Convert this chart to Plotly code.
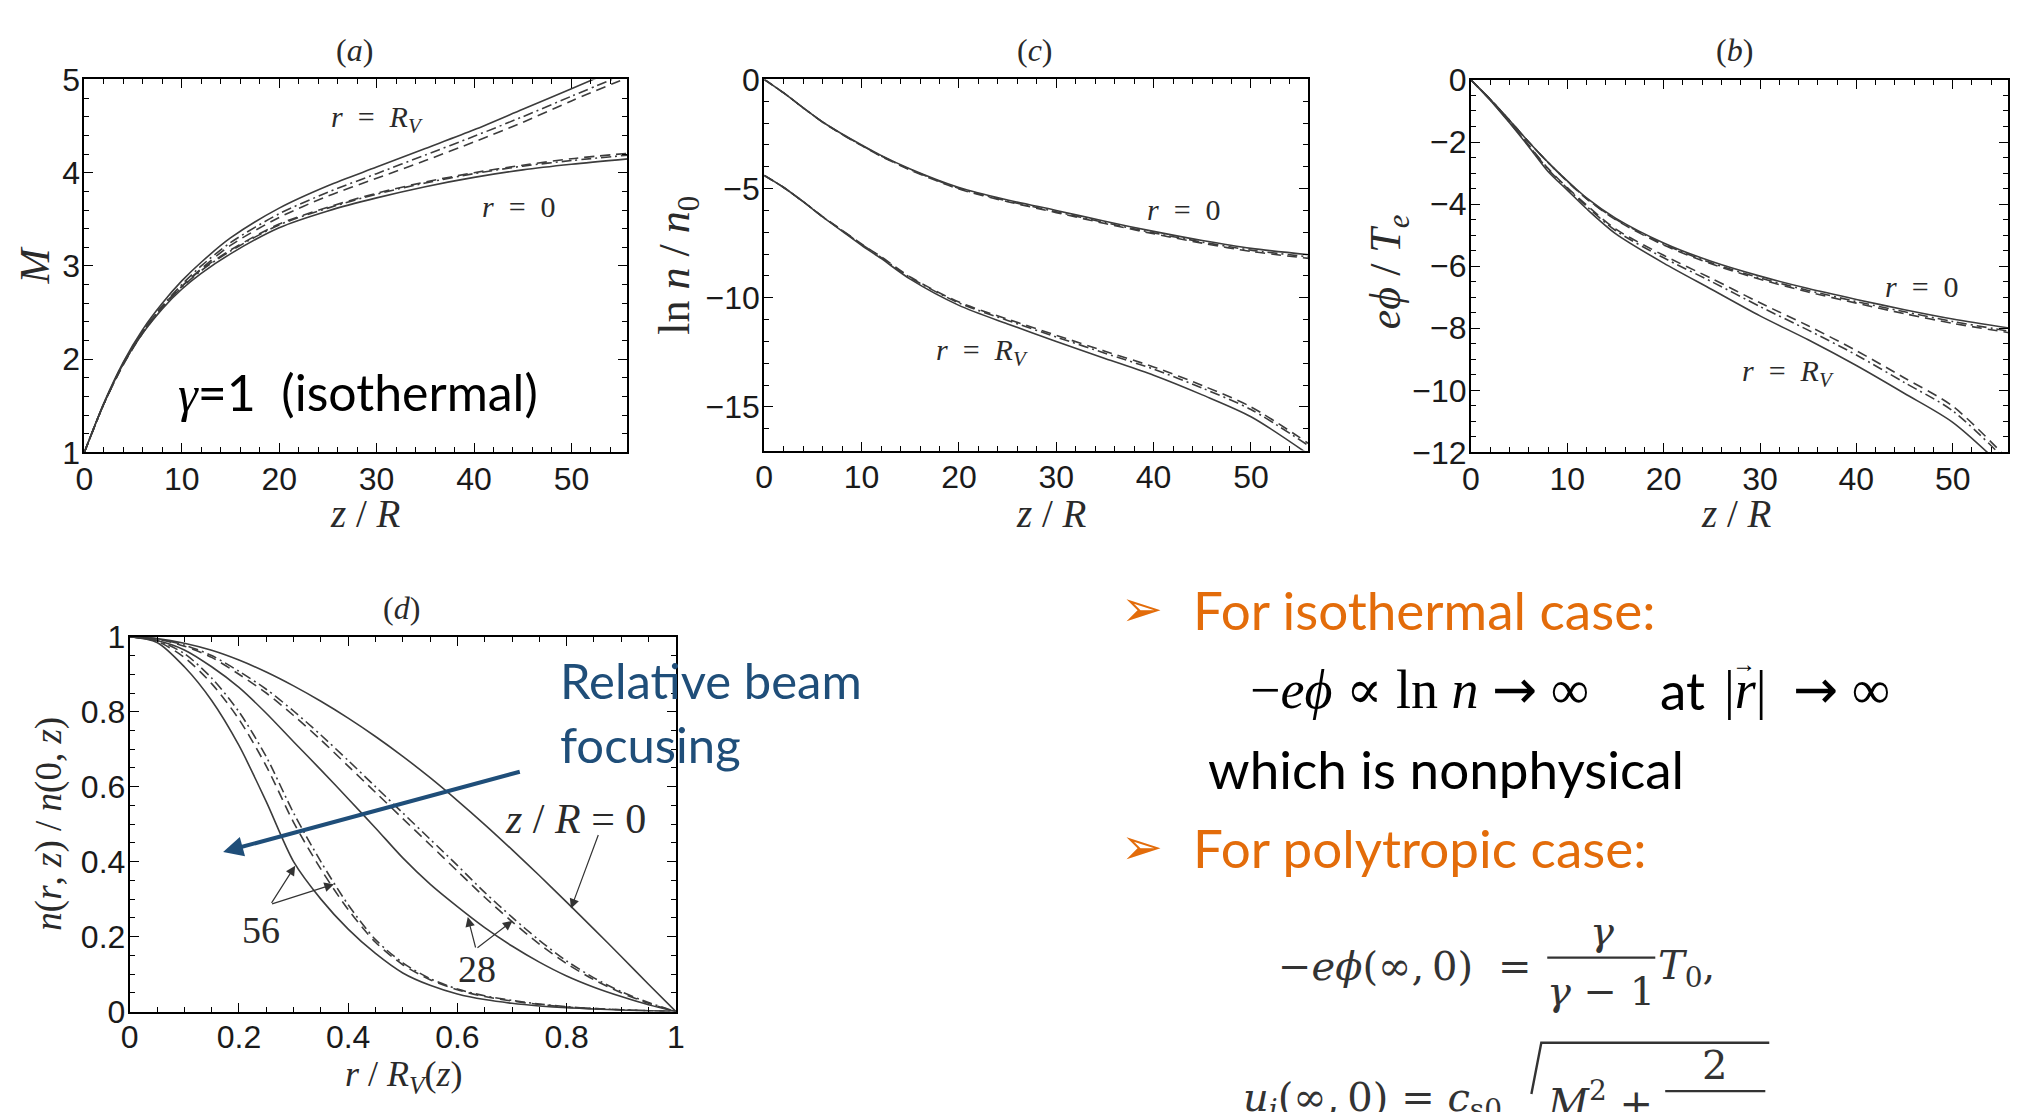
import plotly.graph_objects as go

W, H = 2032, 1112

# ---------------- data ----------------
# axial distance z/R for panels (a), (b), (c)
z_vals = [0, 2, 4, 6, 8, 10, 12, 15, 20, 25, 30, 35, 40, 45, 50, 56]

# (a) Mach number M
M_RV_solid = [1.0, 1.53, 1.97, 2.32, 2.60, 2.84, 3.04, 3.30, 3.62, 3.86, 4.06, 4.26, 4.46, 4.68, 4.90, 5.17]
M_RV_dashdot = [1.0, 1.52, 1.95, 2.30, 2.57, 2.80, 3.00, 3.25, 3.56, 3.79, 3.99, 4.19, 4.39, 4.60, 4.82, 5.08]
M_RV_dash = [1.0, 1.52, 1.94, 2.28, 2.55, 2.78, 2.97, 3.22, 3.52, 3.75, 3.94, 4.13, 4.33, 4.54, 4.77, 5.03]
M_0_solid = [1.0, 1.52, 1.95, 2.28, 2.54, 2.75, 2.92, 3.13, 3.41, 3.59, 3.73, 3.85, 3.95, 4.03, 4.09, 4.15]
M_0_dashdot = [1.0, 1.52, 1.95, 2.29, 2.56, 2.77, 2.95, 3.16, 3.44, 3.62, 3.77, 3.89, 3.99, 4.07, 4.13, 4.19]
M_0_dash = [1.0, 1.52, 1.96, 2.30, 2.57, 2.78, 2.96, 3.17, 3.45, 3.63, 3.78, 3.90, 4.00, 4.08, 4.15, 4.21]

# (c) ln n / n0
lnn_0_solid = [0, -0.62, -1.30, -1.95, -2.50, -3.00, -3.48, -4.10, -4.95, -5.52, -6.00, -6.50, -6.96, -7.38, -7.74, -8.03]
lnn_0_dashdot = [0, -0.62, -1.30, -1.95, -2.51, -3.02, -3.50, -4.13, -4.99, -5.57, -6.06, -6.56, -7.03, -7.45, -7.82, -8.13]
lnn_0_dash = [0, -0.62, -1.30, -1.96, -2.52, -3.03, -3.52, -4.15, -5.02, -5.60, -6.10, -6.60, -7.07, -7.50, -7.88, -8.20]
lnn_RV_solid = [-4.4, -4.95, -5.60, -6.30, -6.95, -7.60, -8.20, -9.15, -10.35, -11.20, -12.00, -12.78, -13.55, -14.45, -15.45, -17.20]
lnn_RV_dashdot = [-4.4, -4.95, -5.60, -6.29, -6.92, -7.56, -8.15, -9.08, -10.24, -11.04, -11.80, -12.54, -13.27, -14.14, -15.12, -16.80]
lnn_RV_dash = [-4.4, -4.95, -5.60, -6.28, -6.91, -7.54, -8.12, -9.05, -10.20, -10.98, -11.72, -12.45, -13.17, -14.02, -15.00, -16.70]

# (b) e*phi / Te
phi_0_solid = [0, -0.62, -1.30, -2.00, -2.65, -3.25, -3.80, -4.45, -5.25, -5.85, -6.32, -6.72, -7.07, -7.40, -7.70, -8.00]
phi_0_dashdot = [0, -0.62, -1.30, -2.00, -2.66, -3.26, -3.82, -4.48, -5.29, -5.90, -6.38, -6.78, -7.14, -7.47, -7.78, -8.10]
phi_0_dash = [0, -0.62, -1.30, -2.00, -2.66, -3.27, -3.83, -4.50, -5.32, -5.93, -6.42, -6.83, -7.19, -7.53, -7.84, -8.15]
phi_RV_solid = [0, -0.65, -1.38, -2.15, -2.95, -3.55, -4.15, -4.95, -5.90, -6.75, -7.60, -8.37, -9.20, -10.10, -11.03, -12.70]
phi_RV_dashdot = [0, -0.64, -1.36, -2.12, -2.88, -3.49, -4.07, -4.85, -5.73, -6.50, -7.30, -8.06, -8.86, -9.75, -10.66, -12.40]
phi_RV_dash = [0, -0.64, -1.35, -2.10, -2.85, -3.47, -4.03, -4.80, -5.65, -6.40, -7.18, -7.92, -8.72, -9.60, -10.51, -12.30]

# (d) radial density profiles n(r,z)/n(0,z)
r_vals = [0, 0.05, 0.1, 0.15, 0.2, 0.25, 0.3, 0.35, 0.4, 0.45, 0.5,
          0.55, 0.6, 0.65, 0.7, 0.75, 0.8, 0.85, 0.9, 0.95, 1.0]
n_z0 = [1, 0.995, 0.983, 0.964, 0.938, 0.906, 0.869, 0.828, 0.783, 0.734, 0.681,
        0.624, 0.563, 0.499, 0.432, 0.363, 0.292, 0.220, 0.147, 0.073, 0]
n_z28_solid = [1, 0.990, 0.965, 0.920, 0.865, 0.796, 0.720, 0.645, 0.568, 0.490, 0.410,
               0.340, 0.280, 0.224, 0.175, 0.132, 0.095, 0.065, 0.040, 0.018, 0]
n_z28_dash = [1, 0.994, 0.975, 0.945, 0.900, 0.850, 0.790, 0.725, 0.655, 0.585, 0.515,
              0.445, 0.375, 0.305, 0.240, 0.180, 0.128, 0.085, 0.050, 0.022, 0]
n_z28_dashdot = [1, 0.995, 0.978, 0.950, 0.908, 0.860, 0.802, 0.738, 0.670, 0.600, 0.530,
                 0.460, 0.390, 0.318, 0.252, 0.190, 0.135, 0.090, 0.053, 0.024, 0]
n_z56_solid = [1, 0.985, 0.920, 0.830, 0.710, 0.560, 0.400, 0.300, 0.220, 0.155, 0.103,
               0.070, 0.047, 0.032, 0.022, 0.015, 0.010, 0.007, 0.004, 0.002, 0]
n_z56_dash = [1, 0.988, 0.945, 0.875, 0.780, 0.655, 0.505, 0.380, 0.272, 0.185, 0.125,
              0.085, 0.058, 0.040, 0.028, 0.019, 0.012, 0.008, 0.005, 0.002, 0]
n_z56_dashdot = [1, 0.990, 0.955, 0.890, 0.800, 0.680, 0.530, 0.400, 0.285, 0.192, 0.130,
                 0.088, 0.060, 0.042, 0.030, 0.020, 0.013, 0.008, 0.005, 0.002, 0]

# tick labels
z_ticks = [0, 10, 20, 30, 40, 50]
M_ticks = [1, 2, 3, 4, 5]
lnn_ticks = [0, -5, -10, -15]
phi_ticks = [0, -2, -4, -6, -8, -10, -12]
r_ticks = [0, 0.2, 0.4, 0.6, 0.8, 1]

# ---------------- helpers ----------------
def px(x, y):
    """pixel position -> paper coordinates"""
    return x / W, 1 - y / H


def dom(x0, x1, y0, y1):
    return [x0 / W, x1 / W], [1 - y1 / H, 1 - y0 / H]


LINE = "#3c3c3c"
DASH = "10px,6px"
DASHDOT = "10px,4px,2px,4px"
SERIF = "Liberation Serif, DejaVu Serif, serif"
EQSERIF = "DejaVu Serif, Liberation Serif, serif"
SANS = "Liberation Sans, Arial, sans-serif"
SLIDE = "Lato, Open Sans, sans-serif"
ORANGE = "#E36C0A"
BLUE = "#1F4E79"
NB = "\u00a0"

fig = go.Figure()


def add_curve(xs, ys, dash, xa, ya):
    fig.add_trace(go.Scatter(
        x=xs, y=ys, mode="lines", xaxis=xa, yaxis=ya,
        line=dict(color=LINE, width=1.6, dash=dash, shape="spline", smoothing=0.8),
        hoverinfo="skip", showlegend=False))


# (a)
for ys, d in [(M_RV_solid, "solid"), (M_RV_dashdot, DASHDOT), (M_RV_dash, DASH),
              (M_0_solid, "solid"), (M_0_dashdot, DASHDOT), (M_0_dash, DASH)]:
    add_curve(z_vals, ys, d, "x", "y")
# (c)
for ys, d in [(lnn_0_solid, "solid"), (lnn_0_dashdot, DASHDOT), (lnn_0_dash, DASH),
              (lnn_RV_solid, "solid"), (lnn_RV_dashdot, DASHDOT), (lnn_RV_dash, DASH)]:
    add_curve(z_vals, ys, d, "x2", "y2")
# (b)
for ys, d in [(phi_0_solid, "solid"), (phi_0_dashdot, DASHDOT), (phi_0_dash, DASH),
              (phi_RV_solid, "solid"), (phi_RV_dashdot, DASHDOT), (phi_RV_dash, DASH)]:
    add_curve(z_vals, ys, d, "x3", "y3")
# (d)
for ys, d in [(n_z0, "solid"), (n_z28_solid, "solid"), (n_z28_dash, DASH),
              (n_z28_dashdot, DASHDOT), (n_z56_solid, "solid"), (n_z56_dash, DASH),
              (n_z56_dashdot, DASHDOT)]:
    add_curve(r_vals, ys, d, "x4", "y4")


def axis(domain, rng, tickvals, minor_dtick, anchor, standoff):
    return dict(
        domain=domain, range=rng, anchor=anchor, tickvals=tickvals,
        showline=True, linecolor="black", linewidth=2, mirror="allticks",
        ticks="inside", ticklen=9, tickwidth=1.4, tickcolor="black",
        minor=dict(ticks="inside", ticklen=5, tickwidth=1, tickcolor="black", dtick=minor_dtick),
        showgrid=False, zeroline=False, ticklabelstandoff=standoff,
        tickfont=dict(family=SANS, size=32, color="#1a1a1a"),
    )


xa_a, ya_a = dom(76, 624, 63.5, 449)
xa_c, ya_c = dom(762, 1311, 63.5, 447)
xa_b, ya_b = dom(1475, 2017, 64, 449)
xa_d, ya_d = dom(121.8, 672.8, 639.5, 1026.8)

XS, YS = -3, -4
fig.update_layout(
    width=W, height=H, margin=dict(l=0, r=0, t=0, b=0),
    paper_bgcolor="white", plot_bgcolor="white",
    xaxis=axis(xa_a, [0, 55.75], z_ticks, 2, "y", XS),
    yaxis=axis(ya_a, [1, 5], M_ticks, 0.2, "x", YS),
    xaxis2=axis(xa_c, [0, 55.9], z_ticks, 2, "y2", XS),
    yaxis2=axis(ya_c, [-17, 0], lnn_ticks, 1, "x2", YS),
    xaxis3=axis(xa_b, [0, 55.75], z_ticks, 2, "y3", XS),
    yaxis3=axis(ya_b, [-12, 0], phi_ticks, 0.5, "x3", YS),
    xaxis4=axis(xa_d, [0, 1], r_ticks, 0.05, "y4", -4),
    yaxis4=axis(ya_d, [0, 1], r_ticks, 0.05, "x4", YS),
)

ann = []


def text(x, y, s, size, family=SERIF, color="#2a2a2a", angle=0, xanchor="center"):
    xp, yp = px(x, y)
    ann.append(dict(x=xp, y=yp, xref="paper", yref="paper", text=s, showarrow=False,
                    font=dict(family=family, size=size, color=color), textangle=angle,
                    xanchor=xanchor, yanchor="middle"))


# panel titles
text(349, 33, "(<i>a</i>)", 32)
text(1035, 33, "(<i>c</i>)", 32)
text(1741, 33, "(<i>b</i>)", 32)
text(396, 610, "(<i>d</i>)", 32)

# axis titles
text(26, 256, "<i>M</i>", 42, angle=-90)
text(675, 256, "ln " + "<i>n</i> / <i>n</i><sub>0</sub>", 44, angle=-90)
text(1392, 262, "<i>eϕ</i> / <i>T<sub>e</sub></i>", 44, angle=-90)
for cx in (360, 1052, 1743):
    text(cx, 512, "<i>z</i> / <i>R</i>", 39)
text(40, 833, "<i>n</i>(<i>r</i>, <i>z</i>) / <i>n</i>(0, <i>z</i>)", 37, angle=-90)
text(398, 1094, "<i>r</i> / <i>R<sub>V</sub></i>(<i>z</i>)", 36)

# curve labels
RV = "<i>r</i>" + NB * 2 + "=" + NB * 2 + "<i>R<sub>V</sub></i>"
R0 = "<i>r</i>" + NB * 2 + "=" + NB * 2 + "0"
text(371, 104, RV, 30)
text(515, 195, R0, 30)
text(1185, 198, R0, 30)
text(982, 345, RV, 30)
text(1930, 277, R0, 30)
text(1795, 367, RV, 30)

text(352, 386, "<span style='font-family:Liberation Serif'><i>γ</i></span>=1" + NB * 2 + "(isothermal)",
     50, family=SLIDE, color="black")

# panel (d) labels and arrows
text(572, 828, "<i>z</i> / <i>R</i>" + NB + "=" + NB + "0", 42)
text(254, 943, "56", 38)
text(472, 983, "28", 38)


def arrow(tail, head, color="#333333", width=1.2, size=1.6):
    ann.append(dict(x=head[0], y=head[1], ax=tail[0], ay=tail[1],
                    xref="x4", yref="y4", axref="x4", ayref="y4",
                    showarrow=True, arrowhead=2, arrowsize=size, arrowwidth=width,
                    arrowcolor=color, text=""))


arrow((0.859, 0.475), (0.808, 0.275))
arrow((0.258, 0.286), (0.303, 0.389))
arrow((0.258, 0.286), (0.374, 0.340))
arrow((0.634, 0.167), (0.619, 0.252))
arrow((0.634, 0.167), (0.701, 0.242))
arrow((0.717, 0.641), (0.171, 0.426), color=BLUE, width=4, size=1.0)

text(554, 684, "Relative beam", 49, family=SLIDE, color=BLUE, xanchor="left")
text(554, 750, "focusing", 49, family=SLIDE, color=BLUE, xanchor="left")

# right-hand notes
ARW = "<span style='font-family:DejaVu Sans'>→</span>"
text(1143, 611, "➢", 50, family="DejaVu Sans", color=ORANGE)
text(1193, 611, "For isothermal case:", 53, family=SLIDE, color=ORANGE, xanchor="left")
text(1250, 694, "−<i>eϕ</i>" + NB + "∝" + NB + "ln" + NB + "<i>n</i>" + NB + ARW + NB + "∞",
     54, family=SERIF, color="black", xanchor="left")
text(1664, 694, "at", 53, family=SLIDE, color="black", xanchor="left")
text(1752, 694, "|<i>r</i>|", 54, family=SERIF, color="black")
text(1751, 668, "→", 24, family=SERIF, color="black")
text(1798, 694, ARW + NB + "∞", 54, family=SERIF, color="black", xanchor="left")
text(1208, 776, "which is nonphysical", 53, family=SLIDE, color="black", xanchor="left")
text(1143, 857, "➢", 50, family="DejaVu Sans", color=ORANGE)
text(1193, 857, "For polytropic case:", 53, family=SLIDE, color=ORANGE, xanchor="left")

EQ = "#333333"
text(1278, 980, "−<i>eϕ</i>(∞,\u20090)", 40, family=EQSERIF, color=EQ, xanchor="left")
text(1519, 980, "=", 40, family=EQSERIF, color=EQ)
text(1607, 944, "<i>γ</i>", 40, family=EQSERIF, color=EQ)
text(1606, 1006, "<i>γ</i> − 1", 40, family=EQSERIF, color=EQ)
text(1662, 982, "<i>T</i><sub>0</sub>,", 40, family=EQSERIF, color=EQ, xanchor="left")
text(1243, 1118, "<i>u<sub>i</sub></i>(∞,\u20090) = <i>c</i><sub>s0</sub>", 40, family=EQSERIF,
     color=EQ, xanchor="left")
text(1550, 1118, "<i>M</i><sup>2</sup> +", 40, family=EQSERIF, color=EQ, xanchor="left")
text(1721, 1082, "2", 40, family=EQSERIF, color=EQ)

fig.update_layout(annotations=ann)

# fraction bars and radical sign
shapes = []
x0, y0 = px(1552, 971)
x1, y1 = px(1661, 971)
shapes.append(dict(type="line", xref="paper", yref="paper", x0=x0, y0=y0, x1=x1, y1=y1,
                   line=dict(color=EQ, width=2.2)))
x0, y0 = px(1671, 1109)
x1, y1 = px(1772, 1109)
shapes.append(dict(type="line", xref="paper", yref="paper", x0=x0, y0=y0, x1=x1, y1=y1,
                   line=dict(color=EQ, width=2.2)))
pts = [px(1536, 1112), px(1546, 1059), px(1776, 1059)]
path = "M {} {} L {} {} L {} {}".format(pts[0][0], pts[0][1], pts[1][0], pts[1][1], pts[2][0], pts[2][1])
shapes.append(dict(type="path", xref="paper", yref="paper", path=path,
                   line=dict(color=EQ, width=2.4)))
fig.update_layout(shapes=shapes)

fig.write_html("out.html", config={"displayModeBar": False})
